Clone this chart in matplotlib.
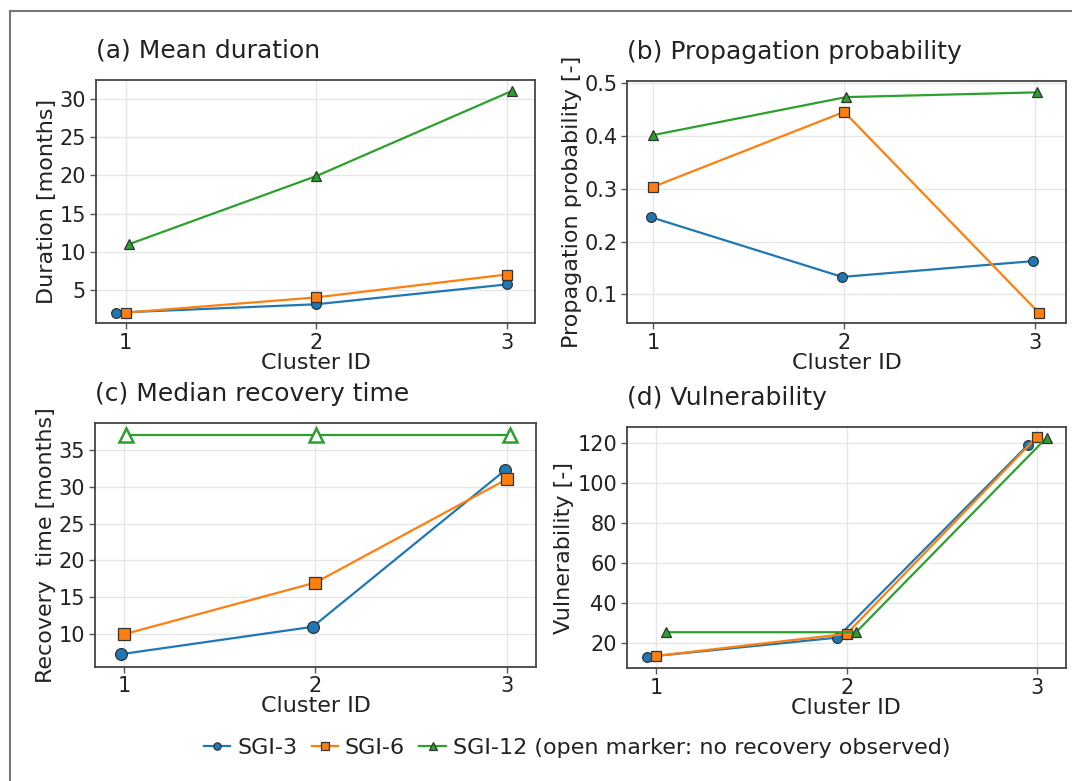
import numpy as np
import matplotlib
matplotlib.use("Agg")
import matplotlib.pyplot as plt
from matplotlib.lines import Line2D

plt.rcParams['font.family'] = ['DejaVu Sans']
plt.rcParams['text.color'] = '#222222'
plt.rcParams['axes.labelcolor'] = '#222222'
plt.rcParams['xtick.color'] = '#555555'
plt.rcParams['ytick.color'] = '#555555'
plt.rcParams['xtick.labelcolor'] = '#222222'
plt.rcParams['ytick.labelcolor'] = '#222222'

# data
clusters = np.array([1, 2, 3])
series = ['SGI-3', 'SGI-6', 'SGI-12']

dur_sgi3 = [2.0, 3.1, 5.7]
dur_sgi6 = [2.0, 4.0, 7.0]
dur_sgi12 = [11.0, 19.9, 31.1]

prop_sgi3 = [0.246, 0.133, 0.163]
prop_sgi6 = [0.304, 0.446, 0.065]
prop_sgi12 = [0.402, 0.474, 0.483]

rec_sgi3 = [7.3, 11.0, 32.2]
rec_sgi6 = [10.0, 17.0, 31.0]
rec_sgi12 = [37.0, 37.0, 37.0]
rec_sgi12_observed = [False, False, False]

vul_sgi3 = [13.2, 22.8, 118.7]
vul_sgi6 = [13.7, 24.7, 123.0]
vul_sgi12 = [25.5, 25.5, 122.5]

colors = ['#1f77b4', '#ff7f0e', '#2ca02c']
markers = ['o', 's', '^']

fig = plt.figure(figsize=(10.72, 7.81), dpi=100)

# panel boxes (left, bottom, width, height)
boxes = [
    [0.0893, 0.586, 0.410, 0.3115],
    [0.5852, 0.586, 0.4092, 0.3106],
    [0.0886, 0.1464, 0.4114, 0.3117],
    [0.5846, 0.1443, 0.4098, 0.3093],
]

panels = [
    dict(title='(a) Mean duration', ylabel='Duration [months]',
         vals=[dur_sgi3, dur_sgi6, dur_sgi12], ylim=(0.6, 32.5),
         yticks=[5, 10, 15, 20, 25, 30], xlim=(0.843, 3.15),
         offs=[[-0.05, 0, 0], [0, 0, 0], [0.02, 0, 0.03]], ms=7),
    dict(title='(b) Propagation probability', ylabel='Propagation probability [-]',
         vals=[prop_sgi3, prop_sgi6, prop_sgi12], ylim=(0.045, 0.505),
         yticks=[0.1, 0.2, 0.3, 0.4, 0.5], xlim=(0.864, 3.162),
         offs=[[-0.01, -0.01, -0.01], [0, 0, 0.02], [0, 0.01, 0.01]], ms=7),
    dict(title='(c) Median recovery time', ylabel='Recovery  time [months]',
         vals=[rec_sgi3, rec_sgi6, rec_sgi12], ylim=(5.6, 38.6),
         yticks=[10, 15, 20, 25, 30, 35], xlim=(0.847, 3.153),
         offs=[[-0.015, -0.015, -0.01], [0, 0, 0], [0.01, 0.005, 0.015]], ms=8.5),
    dict(title='(d) Vulnerability', ylabel='Vulnerability [-]',
         vals=[vul_sgi3, vul_sgi6, vul_sgi12], ylim=(7.5, 128),
         yticks=[20, 40, 60, 80, 100, 120], xlim=(0.845, 3.152),
         offs=[[-0.05, -0.05, -0.05], [0, 0, 0], [0.05, 0.05, 0.05]], ms=7),
]

handles = []
for i, (box, p) in enumerate(zip(boxes, panels)):
    ax = fig.add_axes(box)
    for k in range(3):
        x = clusters + np.array(p['offs'][k])
        y = p['vals'][k]
        if i == 2 and k == 2:
            # no recovery observed -> open markers
            ax.plot(x, y, color=colors[k], lw=1.6, zorder=3)
            ax.plot(x, y, ls='none', marker=markers[k], ms=10, mfc='white',
                    mec=colors[k], mew=1.8, zorder=4)
            continue
        ln, = ax.plot(x, y, color=colors[k], lw=1.6, marker=markers[k],
                      ms=p['ms'], mfc=colors[k], mec='#333333', mew=0.9,
                      label=series[k], zorder=3 + k * 0.1)
        if i == 0:
            handles.append(ln)
    ax.set_xlim(*p['xlim'])
    ax.set_ylim(*p['ylim'])
    ax.set_xticks(clusters)
    ax.set_yticks(p['yticks'])
    ax.grid(True, color='#e6e6e6', lw=1)
    ax.set_axisbelow(True)
    for s in ax.spines.values():
        s.set_color('#444444')
        s.set_linewidth(1.3)
    ax.tick_params(labelsize=15, length=4, width=1, pad=3)
    ax.set_xlabel('Cluster ID', fontsize=16, labelpad=0)
    ax.set_ylabel(p['ylabel'], fontsize=16, labelpad=2)
    ax.set_title(p['title'], loc='left', fontsize=18, pad=16)

leg = fig.legend(handles, ['SGI-3', 'SGI-6', 'SGI-12 (open marker: no recovery observed)'],
                 loc='center', bbox_to_anchor=(577 / 1072, 1 - 748 / 781),
                 ncol=3, frameon=False, fontsize=16, handlelength=1.2,
                 handletextpad=0.3, columnspacing=0.65, markerscale=0.75)

# outer frame (top and left edges visible)
fig.add_artist(Line2D([10 / 1072, 1.0], [1 - 11 / 781, 1 - 11 / 781],
                      transform=fig.transFigure, color='#777777', lw=1.5))
fig.add_artist(Line2D([10 / 1072, 10 / 1072], [0.0, 1 - 11 / 781],
                      transform=fig.transFigure, color='#777777', lw=1.5))

fig.savefig('out.png', dpi=100)
